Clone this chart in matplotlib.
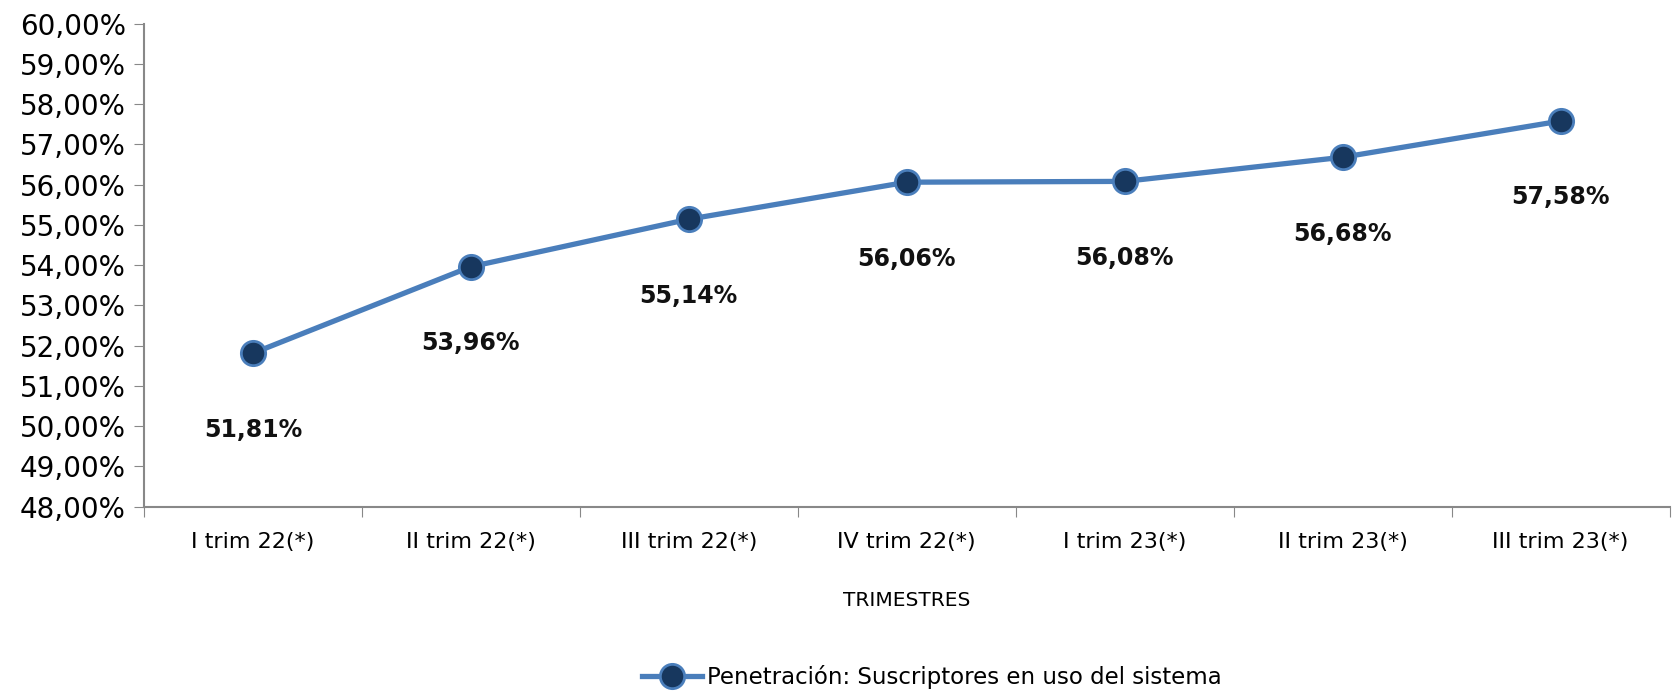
import matplotlib
matplotlib.use('Agg')
import matplotlib.pyplot as plt
import numpy as np
from matplotlib.ticker import FuncFormatter, MultipleLocator

trimestres = ['I trim 22(*)', 'II trim 22(*)', 'III trim 22(*)', 'IV trim 22(*)',
              'I trim 23(*)', 'II trim 23(*)', 'III trim 23(*)']
penetracion = [51.81, 53.96, 55.14, 56.06, 56.08, 56.68, 57.58]
serie = 'Penetración: Suscriptores en uso del sistema'

linea = '#4a7ebb'
relleno = '#17375e'

fig = plt.figure(figsize=(16.73, 6.94), dpi=100)
ax = fig.add_axes([0.086, 0.27, 0.912, 0.696])

x = np.arange(len(trimestres)) + 0.5
ax.plot(x, penetracion, color=linea, lw=3.8, marker='o', ms=17.5,
        mfc=relleno, mec=linea, mew=2, label=serie, zorder=3)

for xi, v in zip(x, penetracion):
    txt = f'{v:.2f}'.replace('.', ',') + '%'
    ax.annotate(txt, (xi, v), xytext=(0, -55), textcoords='offset points',
                ha='center', va='center', fontsize=17, fontweight='bold', color='#111111')

ax.set_xlim(0, len(trimestres))
ax.set_ylim(48, 60)
ax.yaxis.set_major_locator(MultipleLocator(1))
ax.yaxis.set_major_formatter(FuncFormatter(lambda v, p: f'{v:.2f}'.replace('.', ',') + '%'))
ax.set_xticks(np.arange(len(trimestres) + 1))
ax.set_xticklabels([])
ax.set_xticks(x, minor=True)
ax.set_xticklabels(trimestres, minor=True, fontsize=16)
ax.tick_params(axis='x', which='minor', length=0, pad=18)
ax.tick_params(axis='x', which='major', length=7, color='#888888', direction='out')
ax.tick_params(axis='y', labelsize=20, length=7, color='#888888', pad=6)

for s in ['top', 'right']:
    ax.spines[s].set_visible(False)
for s in ['left', 'bottom']:
    ax.spines[s].set_color('#888888')
    ax.spines[s].set_linewidth(1.5)

ax.set_xlabel('TRIMESTRES', fontsize=14.5, labelpad=28)

fig.legend(loc='center', bbox_to_anchor=(0.557, 0.025), frameon=False,
           fontsize=16.5, handlelength=2.6, handletextpad=0.2)

fig.savefig('out.png', dpi=100)
